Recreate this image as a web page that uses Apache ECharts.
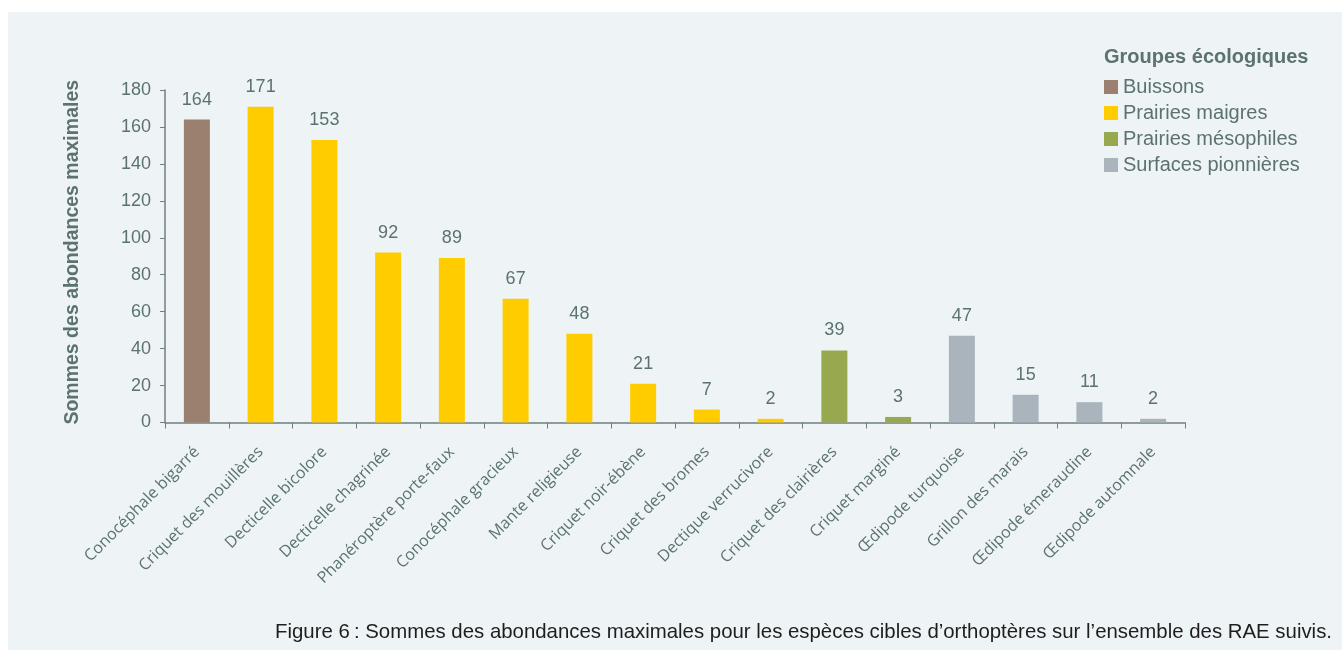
<!DOCTYPE html>
<html><head><meta charset="utf-8">
<script src="https://cdn.jsdelivr.net/npm/echarts@6/dist/echarts.min.js"></script>
<style>html,body{margin:0;padding:0;background:#fff}#c{width:1342px;height:650px}</style>
</head><body><div id="c"></div>
<script>
const categories = ["Conocéphale bigarré","Criquet des mouillères","Decticelle bicolore","Decticelle chagrinée","Phanéroptère porte-faux","Conocéphale gracieux","Mante religieuse","Criquet noir-ébène","Criquet des bromes","Dectique verrucivore","Criquet des clairières","Criquet marginé","Œdipode turquoise","Grillon des marais","Œdipode émeraudine","Œdipode automnale"];
const values = [164,171,153,92,89,67,48,21,7,2,39,3,47,15,11,2];
const groupOf = ["Buissons","Prairies maigres","Prairies maigres","Prairies maigres","Prairies maigres","Prairies maigres","Prairies maigres","Prairies maigres","Prairies maigres","Prairies maigres","Prairies mésophiles","Prairies mésophiles","Surfaces pionnières","Surfaces pionnières","Surfaces pionnières","Surfaces pionnières"];
const groups = ["Buissons","Prairies maigres","Prairies mésophiles","Surfaces pionnières"];
const groupColors = ["#9b7f6f","#ffcc00","#97a84f","#a9b4bc"];
const yTicks = [0,20,40,60,80,100,120,140,160,180];
const legendTitle = "Groupes écologiques";
const yTitle = "Sommes des abondances maximales";
const caption = "Figure 6\u202F: Sommes des abondances maximales pour les espèces cibles d’orthoptères sur l’ensemble des RAE suivis.";

const txt = "#5b7271";
const axisCol = "#6f817e";
const chart = echarts.init(document.getElementById('c'));
const series = groups.map((g, gi) => ({
  name: g, type: 'bar', stack: 'all', barWidth: 26,
  itemStyle: {color: groupColors[gi]},
  label: {show: true, position: 'top', distance: 11, color: txt, fontSize: 18, fontFamily: 'Liberation Sans'},
  data: values.map((v, i) => groupOf[i] === g ? v : null)
}));
chart.setOption({
  animation: false,
  graphic: [
    {type: 'rect', left: 8, top: 12, shape: {width: 1334, height: 638}, style: {fill: '#eef3f6'}, z: -10},
    {type: 'text', right: 10, top: 622, style: {text: caption, font: '20.4px "Liberation Sans"', fill: '#1e1e1e'}}
  ],
  title: {text: legendTitle, left: 1099, top: 42, textStyle: {color: txt, fontSize: 20, fontWeight: 'bold', fontFamily: 'Liberation Sans'}},
  legend: {orient: 'vertical', left: 1099, top: 72, itemWidth: 14, itemHeight: 14, itemGap: 6, icon: 'rect',
    textStyle: {color: txt, fontSize: 20, fontFamily: 'Liberation Sans'}, data: groups},
  grid: {left: 165, right: 157, top: 90, bottom: 227.5},
  xAxis: {type: 'category', data: categories,
    axisLine: {lineStyle: {color: axisCol, width: 1.5}},
    axisTick: {show: true, alignWithLabel: false, length: 6, lineStyle: {color: axisCol}},
    axisLabel: {rotate: 45, interval: 0, margin: 27, color: txt, fontSize: 16, fontFamily: 'Open Sans'}},
  yAxis: {type: 'value', min: 0, max: 180, interval: 20,
    name: yTitle, nameLocation: 'middle', nameGap: 82,
    nameTextStyle: {color: txt, fontSize: 19.5, fontWeight: 'bold', fontFamily: 'Liberation Sans', padding: [0, 0, 0, 8]},
    axisLine: {show: true, lineStyle: {color: axisCol, width: 1.5}},
    axisTick: {show: true, length: 5, lineStyle: {color: axisCol}},
    splitLine: {show: false},
    axisLabel: {color: txt, fontSize: 18, margin: 14, fontFamily: 'Liberation Sans',
      formatter: v => yTicks.includes(v) ? String(v) : ''}},
  series: series
});
</script></body></html>
